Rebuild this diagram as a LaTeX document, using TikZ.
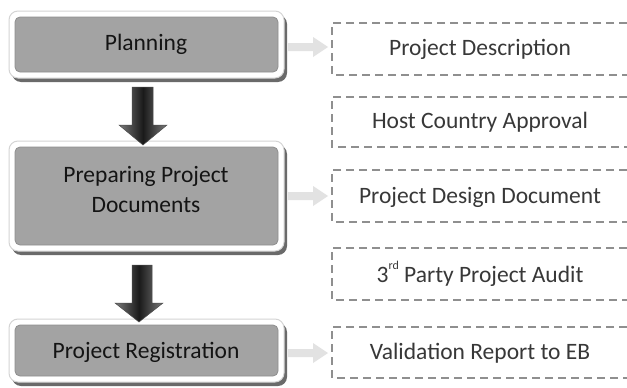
\documentclass[tikz,border=0pt]{standalone}
\usepackage{fontspec}
\setmainfont{Carlito}
\begin{document}
\begin{tikzpicture}[x=1pt,y=-1pt,
  stepfill/.style={fill=boxgray,draw=boxedge,line width=0.8pt,rounded corners=5pt},
  framebox/.style={fill=white,draw=framegray,line width=1pt,rounded corners=9pt},
  shadowbox/.style={fill=shadowgray,rounded corners=9pt},
  outbox/.style={draw=dashgray,line width=1.4pt,dash pattern=on 8pt off 5pt},
  lefttext/.style={text=black!92,font=\fontsize{23.5}{30}\selectfont,align=center},
  righttext/.style={text=black!78,font=\fontsize{23.5}{29}\selectfont},
  lightarrow/.style={fill=arrowgray,draw=none},
  bigarrow/.style={left color=arrowedge,right color=arrowedge,middle color=black!90,draw=black!70,line width=0.5pt}
]
\definecolor{boxgray}{HTML}{A3A3A3}
\definecolor{boxedge}{HTML}{8E8E8E}
\definecolor{framegray}{HTML}{D4D4D4}
\definecolor{shadowgray}{HTML}{6A6A6A}
\definecolor{dashgray}{HTML}{8F8F8F}
\definecolor{arrowgray}{HTML}{E2E2E2}
\definecolor{arrowedge}{HTML}{7A7A7A}
\useasboundingbox (0,0) rectangle (627,388);
\clip (0,0) rectangle (627,388);
\fill[white] (0,0) rectangle (627,388);

% left step boxes
\foreach \t/\b in {17/72,147/245,325/376}{
  \fill[shadowbox] (12,\t-2) rectangle (287,\b+10);
  \draw[framebox] (9,\t-6) rectangle (284,\b+6);
  \draw[stepfill] (15,\t) rectangle (278,\b);
}
\node[lefttext] (plan) at (146,44) {Planning};
\node[lefttext] (prep) at (146,190) {Preparing Project\\Documents};
\node[lefttext] (reg) at (146,352) {Project Registration};

% big down arrows
\path[bigarrow] (132,87) -- (153,87) -- (153,125) -- (167,125) -- (143,145) -- (119,125) -- (132,125) -- cycle;
\path[bigarrow] (132,265) -- (152,265) -- (152,303) -- (163,303) -- (139,322) -- (115,303) -- (132,303) -- cycle;

% right dashed boxes
\draw[outbox] (640,23) -- (332,23) -- (332,75) -- (640,75);
\draw[outbox] (640,97) -- (332,97) -- (332,147) -- (640,147);
\draw[outbox] (640,170) -- (332,170) -- (332,222) -- (640,222);
\draw[outbox] (640,248) -- (332,248) -- (332,300) -- (640,300);
\draw[outbox] (640,327) -- (332,327) -- (332,378) -- (640,378);
\node[righttext] (d1) at (480,49) {Project Description};
\node[righttext] (d2) at (480,122) {Host Country Approval};
\node[righttext] (d3) at (480,197) {Project Design Document};
\node[righttext] (d4) at (480,274) {3\raisebox{1.2ex}{\fontsize{12}{12}\selectfont rd} Party Project Audit};
\node[righttext] (d5) at (480,353) {Validation Report to EB};

% light connector arrows
\foreach \y in {47,196,353}{
  \fill[lightarrow] (288,\y-4) -- (313,\y-4) -- (313,\y-10) -- (328,\y) -- (313,\y+10) -- (313,\y+4) -- (288,\y+4) -- cycle;
}
\end{tikzpicture}
\end{document}
